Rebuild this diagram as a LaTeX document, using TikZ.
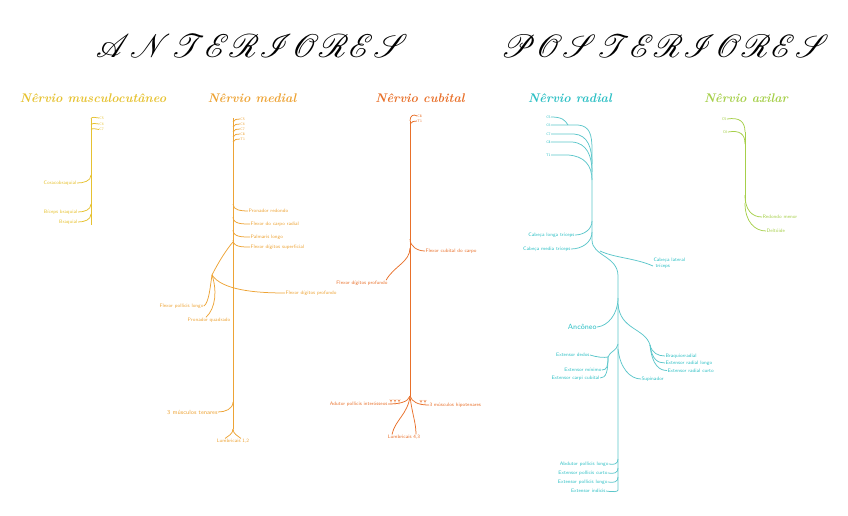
\documentclass[tikz,border=0pt]{standalone}
\usepackage{mathrsfs}
\usepackage{graphicx}
\definecolor{cmc}{HTML}{E6C232}
\definecolor{cmd}{HTML}{EDA335}
\definecolor{ccb}{HTML}{E8702A}
\definecolor{crd}{HTML}{2CBFC4}
\definecolor{crl}{HTML}{5CC6CA}
\definecolor{cax}{HTML}{A6CF4A}
\begin{document}
\begin{tikzpicture}[x=1pt,y=-1pt,
  lab/.style={font=\fontsize{5}{5.5}\selectfont\sffamily, inner sep=0.3pt},
  tiny/.style={font=\fontsize{3.6}{4}\selectfont\sffamily, inner sep=0.2pt},
  head/.style={font=\fontsize{12.5}{13}\selectfont\bfseries\itshape, inner sep=0pt},
  nerve/.style={line width=0.75pt},
  title/.style={font=\fontsize{24.88}{25}\selectfont, inner sep=0pt}]
\useasboundingbox (0,0) rectangle (848,516);
% titles
\node[title] (tA) at (252,46) {\resizebox{312pt}{!}{$\mathscr{ANTERIORES}$}};
\node[title] (tP) at (665,46) {\resizebox{328pt}{!}{$\mathscr{POSTERIORES}$}};
% headers
\node[head,text=cmc] (hmc) at (93,98) {Nêrvio musculocutâneo};
\node[head,text=cmd] (hmd) at (252,98) {Nêrvio medial};
\node[head,text=ccb] (hcb) at (420,98) {Nêrvio cubital};
\node[head,text=crd] (hrd) at (570,98) {Nêrvio radial};
\node[head,text=cax] (hax) at (746,98) {Nêrvio axilar};

% ---------- musculocutaneo ----------
\begin{scope}[cmc, every node/.append style={text=cmc}]
\coordinate (mcT) at (91,119); \coordinate (mcB) at (91,225);
\draw[nerve] (mcT) -- (mcB);
\node[tiny,anchor=west] (mcC5) at (99,118) {C5};
\node[tiny,anchor=west] (mcC6) at (99,124) {C6};
\node[tiny,anchor=west] (mcC7) at (99,129.5) {C7};
\draw[nerve] (mcT) to[out=80,in=180] (mcC5.west);
\draw[nerve] (91,125) coordinate (mc2) to[out=60,in=180] (mcC6.west);
\draw[nerve] (91,130) coordinate (mc3) to[out=60,in=180] (mcC7.west);
\node[lab,anchor=east] (mcCb) at (77,183) {Coracobraquial};
\node[lab,anchor=east] (mcBB) at (78,212) {Bíceps braquial};
\node[lab,anchor=east] (mcBr) at (78,222) {Braquial};
\draw[nerve] (91,175) coordinate (mc4) to[out=-90,in=0] (mcCb.east);
\draw[nerve] (91,204) coordinate (mc5) to[out=-90,in=0] (mcBB.east);
\draw[nerve] (91,214) coordinate (mc6) to[out=-90,in=0] (mcBr.east);
\end{scope}

% ---------- medial ----------
\begin{scope}[cmd, every node/.append style={text=cmd}]
\coordinate (mdT) at (233,118); \coordinate (mdB) at (233,429);
\draw[nerve] (mdT) -- (mdB);
\foreach \n/\t [count=\i] in {a/C5,b/C6,c/C7,d/C8,e/T1}{
  \node[tiny,anchor=west] (md\n) at (240,114+5*\i) {\t};
  \draw[nerve] (233,117+5*\i) to[out=70,in=180] (md\n.west);
}
\node[lab,anchor=west] (mdPR) at (248,211) {Pronador redondo};
\node[lab,anchor=west] (mdFCR) at (250,224) {Flexor do carpo radial};
\node[lab,anchor=west] (mdPL) at (250,237) {Palmaris longo};
\node[lab,anchor=west] (mdFDS) at (250,247) {Flexor dígitos superficial};
\draw[nerve] (233,204) coordinate (md1) to[out=-90,in=180] (mdPR.west);
\draw[nerve] (233,217) coordinate (md2) to[out=-90,in=180] (mdFCR.west);
\draw[nerve] (233,230) coordinate (md3) to[out=-90,in=180] (mdPL.west);
\draw[nerve] (233,240) coordinate (md4) to[out=-90,in=180] (mdFDS.west);
\draw[nerve] (233,242) coordinate (mdo) .. controls (226,250) and (218,263) .. (212,275) coordinate (mds);
\node[lab,anchor=west] (mdFDP) at (285,293) {Flexor dígitos profundo};
\node[lab,anchor=east] (mdFPL) at (204,306) {Flexor pollicis longo};
\node[lab] (mdPQ) at (209,320) {Pronador quadrado};
\draw[nerve] (mds) .. controls (222,290) and (255,293) .. (mdFDP.west);
\draw[nerve] (mds) .. controls (210,288) and (209,302) .. (mdFPL.east);
\draw[nerve] (mds) .. controls (217,290) and (216,308) .. ([xshift=-3pt]mdPQ.north);
\node[lab,font=\fontsize{6}{6}\selectfont\sffamily,anchor=east] (mdMT) at (218,412) {3 músculos tenares};
\draw[nerve] (233,402) coordinate (md5) to[out=-90,in=0] (mdMT.east);
\node[lab] (mdL) at (233,441) {Lumbricais 1,2};
\draw[nerve] (mdB) .. controls (233,434) and (228,436) .. ([xshift=-8pt]mdL.north);
\draw[nerve] (mdB) .. controls (233,434) and (238,436) .. ([xshift=8pt]mdL.north);
\end{scope}

% ---------- cubital ----------
\begin{scope}[ccb, every node/.append style={text=ccb}]
\coordinate (cbT) at (410,121); \coordinate (cbB) at (410,396);
\draw[nerve] (cbT) -- (cbB);
\node[tiny,anchor=west] (cbC8) at (417,116) {C8};
\node[tiny,anchor=west] (cbT1) at (417,121) {T1};
\draw[nerve] (cbT) .. controls (410,115) and (414,114) .. (cbC8.west);
\draw[nerve] (410,124) coordinate (cb0) to[out=60,in=180] (cbT1.west);
\node[lab,anchor=west] (cbFCC) at (425,251) {Flexor cubital do carpo};
\draw[nerve] (410,239) coordinate (cb1) to[out=-90,in=180] (cbFCC.west);
\node[lab] (cbFDP) at (362,283) {Flexor dígitos profundo};
\draw[nerve] (410,248) coordinate (cb2) .. controls (410,262) and (394,266) .. ([xshift=-2pt]cbFDP.north east);
\node[lab,anchor=east] (cbAP) at (388,404) {Adutor pollicis interósseos};
\node[lab,anchor=west] (cbHT) at (429,405) {3 músculos hipotenares};
\draw[nerve] (cbB) .. controls (408,402) and (400,404) .. (cbAP.east);
\draw[nerve] (cbB) .. controls (412,402) and (418,405) .. (cbHT.west);
\foreach \x in {391,395,399}{
  \draw[line width=0.45pt] (\x,404.5) -- (\x,401.5) (\x-1.2,399.5) -- (\x,401.5) -- (\x+1.2,399.5);}
\foreach \x in {421,425}{
  \draw[line width=0.45pt] (\x,405) -- (\x,402) (\x-1.2,400) -- (\x,402) -- (\x+1.2,400);}
\node[lab] (cbL) at (404,437) {Lumbricais 4,3};
\draw[nerve] (cbB) .. controls (408,414) and (395,420) .. ([xshift=-12pt]cbL.north);
\draw[nerve] (cbB) .. controls (412,414) and (416,422) .. ([xshift=12pt]cbL.north);
\end{scope}

% ---------- radial ----------
\begin{scope}[crl, every node/.append style={text=crd}]
\coordinate (rdT) at (592,150); \coordinate (rdM) at (592,240);
\coordinate (rdU) at (618,276); \coordinate (rdB) at (618,490);
\draw[nerve] (rdT) -- (rdM) .. controls (592,256) and (618,256) .. (rdU) -- (rdB);
\node[tiny,anchor=east] (rdC5) at (551,117) {C5};
\node[tiny,anchor=east] (rdC6) at (551,125) {C6};
\node[tiny,anchor=east] (rdC7) at (551,134) {C7};
\node[tiny,anchor=east] (rdC8) at (551,142) {C8};
\node[tiny,anchor=east] (rdT1) at (551,155) {T1};
\draw[nerve] (rdC5.east) .. controls (562,117) and (565,120) .. (568,125);
\draw[nerve] (rdC6.east) -- (578,125) .. controls (590,126) and (592,135) .. (rdT);
\draw[nerve] (rdC7.east) -- (574,134) .. controls (588,135) and (592,148) .. (592,164);
\draw[nerve] (rdC8.east) -- (572,142) .. controls (587,143) and (592,156) .. (592,172);
\draw[nerve] (rdT1.east) -- (568,155) .. controls (584,156) and (592,165) .. (592,180);
\node[lab,anchor=east] (rdCL) at (575,235) {Cabeça longa tríceps};
\node[lab,anchor=east] (rdCM) at (571,249) {Cabeça media tríceps};
\draw[nerve] (592,221) coordinate (rd1) to[out=-90,in=0] (rdCL.east);
\draw[nerve] (592,232) coordinate (rd2) to[out=-90,in=0] (rdCM.east);
\node[lab,anchor=west,align=left] (rdCLat) at (653,263) {Cabeça lateral\\\hspace*{2pt}tríceps};
\draw[nerve] (600,251) coordinate (rd3) .. controls (615,258) and (635,258) .. ([yshift=-3pt]rdCLat.west);
\node[lab,font=\fontsize{7.5}{8}\selectfont\sffamily,anchor=east] (rdAn) at (597,327) {Ancôneo};
\draw[nerve] (618,298) coordinate (rd4) .. controls (618,314) and (608,326) .. (rdAn.east);
\draw[nerve] (618,304) coordinate (rd5) .. controls (620,330) and (645,328) .. (650,345) coordinate (rdr);
\node[lab,anchor=west] (rdBR) at (665,356) {Braquiorradial};
\node[lab,anchor=west] (rdERL) at (665,363) {Extensor radial longo};
\node[lab,anchor=west] (rdERC) at (667,370.5) {Extensor radial curto};
\draw[nerve] (rdr) .. controls (652,353) and (658,356) .. (rdBR.west);
\draw[nerve] (rdr) .. controls (652,360) and (658,363) .. (rdERL.west);
\draw[nerve] (rdr) .. controls (652,366) and (660,370.5) .. (rdERC.west);
\draw[nerve] (618,344) coordinate (rd6) .. controls (617,351) and (610,351) .. (608,357) coordinate (rdl);
\node[lab,anchor=east] (rdED) at (590,355) {Extensor dedos};
\node[lab,anchor=east] (rdEM) at (602,370) {Extensor mínimo};
\node[lab,anchor=east] (rdEC) at (600,378) {Extensor carpi cubital};
\draw[nerve] (rdl) .. controls (604,358) and (596,357) .. (rdED.east);
\draw[nerve] (rdl) .. controls (608,366) and (607,370) .. (rdEM.east);
\draw[nerve] (rdl) .. controls (608,372) and (606,378) .. (rdEC.east);
\node[lab,anchor=west] (rdSup) at (641,379) {Supinador};
\draw[nerve] (618,349) coordinate (rd7) .. controls (620,368) and (630,379) .. (rdSup.west);
\node[lab,anchor=east] (rdAPL) at (609,464) {Abdutor pollicis longo};
\node[lab,anchor=east] (rdEPC) at (608,473) {Extensor pollicis curto};
\node[lab,anchor=east] (rdEPL) at (608,482) {Extensor pollicis longo};
\node[lab,anchor=east] (rdEI) at (606,491) {Extensor indicis};
\draw[nerve] (618,459) coordinate (rd8) .. controls (618,464) and (614,465) .. (rdAPL.east);
\draw[nerve] (618,468) coordinate (rd9) .. controls (618,473) and (614,474) .. (rdEPC.east);
\draw[nerve] (618,477) coordinate (rd10) .. controls (618,482) and (614,483) .. (rdEPL.east);
\draw[nerve] (rdB) .. controls (618,492) and (612,492) .. (rdEI.east);
\end{scope}

% ---------- axilar ----------
\begin{scope}[cax, every node/.append style={text=cax}]
\coordinate (axT) at (745,132); \coordinate (axB) at (745,203);
\draw[nerve] (axT) -- (axB);
\node[tiny,font=\fontsize{4}{4}\selectfont\sffamily,anchor=east] (axC5) at (727,119) {C5};
\node[tiny,font=\fontsize{4}{4}\selectfont\sffamily,anchor=east] (axC6) at (728,132) {C6};
\draw[nerve] (axC5.east) .. controls (740,117) and (745,122) .. (axT);
\draw[nerve] (axC6.east) .. controls (740,130) and (745,134) .. (745,144);
\node[lab,anchor=west] (axRM) at (762,217) {Redondo menor};
\node[lab,anchor=west] (axD) at (766,231) {Deltóide};
\draw[nerve] (745,195) coordinate (ax1) .. controls (745,210) and (752,217) .. (axRM.west);
\draw[nerve] (axB) .. controls (745,222) and (755,231) .. (axD.west);
\end{scope}
\end{tikzpicture}
\end{document}
